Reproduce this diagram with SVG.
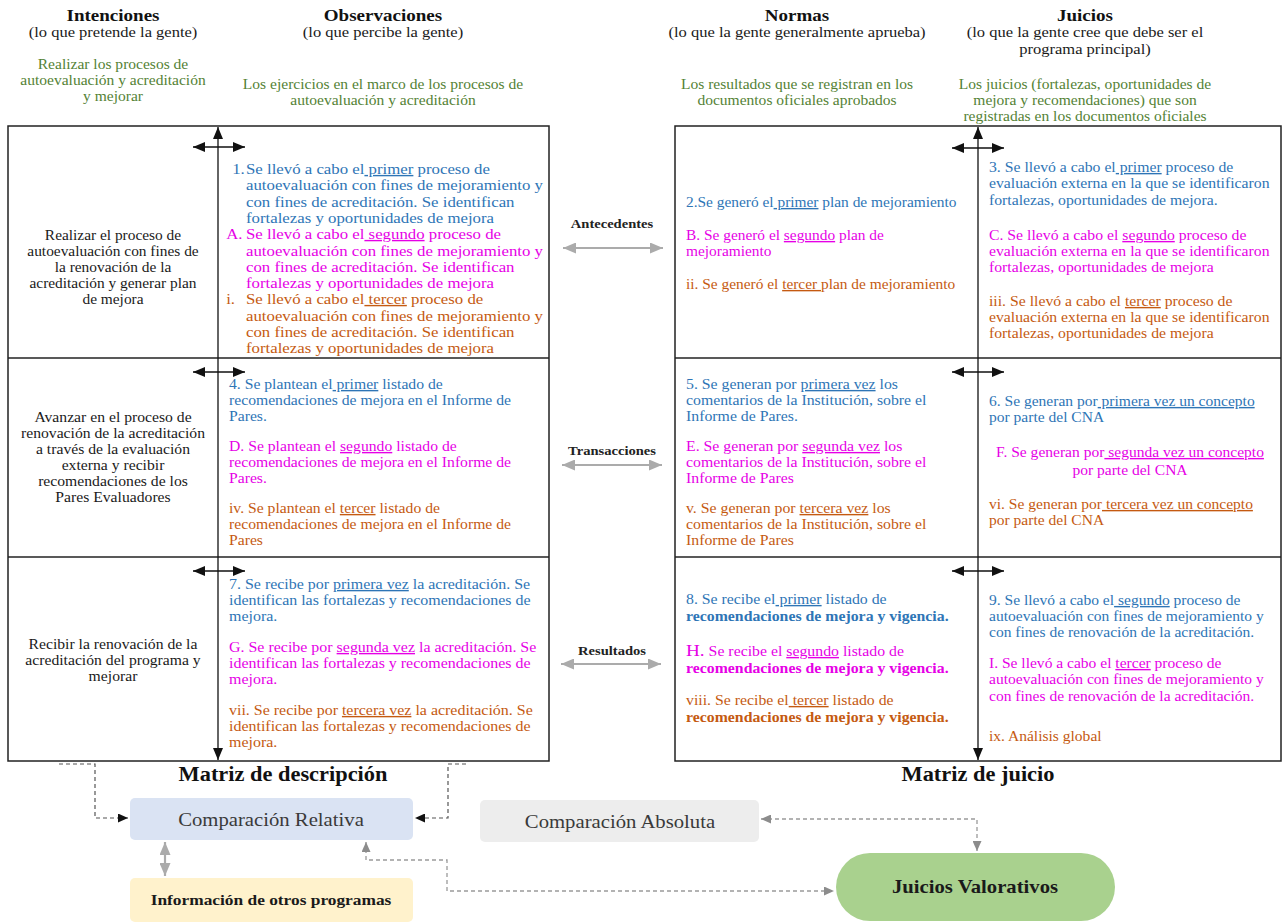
<svg xmlns="http://www.w3.org/2000/svg" width="1283" height="924" viewBox="0 0 1283 924">
<style>
text{font-family:"Liberation Serif","Times New Roman",serif;font-size:14px;fill:#1a1a1a}
.hd{font-size:17px;font-weight:bold;fill:#111}
.g{fill:#548235}
.b{fill:#2E75B6}
.m{fill:#E600E6}
.o{fill:#C55A11}
.bd{font-weight:bold}
.u{text-decoration:underline}
.mid{font-size:13px;font-weight:bold;fill:#222}
.box{stroke:none}
.frame{fill:none;stroke:#222;stroke-width:1.5}
.ax{stroke:#111;stroke-width:1.3;fill:none}
.gr{stroke:#ababab;stroke-width:2.2;fill:none}
.dk{stroke:#555;stroke-width:1.2;stroke-dasharray:4 3;fill:none}
.dg{stroke:#9a9a9a;stroke-width:1.3;stroke-dasharray:4 3;fill:none}
</style>
<defs>
<marker id="ak" viewBox="0 0 12 10" refX="12" refY="5" markerWidth="12" markerHeight="10" markerUnits="userSpaceOnUse" orient="auto-start-reverse"><path d="M0,0 L12,5 L0,10 z" fill="#111"/></marker>
<marker id="ag" viewBox="0 0 13 11" refX="13" refY="5.5" markerWidth="13" markerHeight="11" markerUnits="userSpaceOnUse" orient="auto-start-reverse"><path d="M0,0 L13,5.5 L0,11 z" fill="#ababab"/></marker>
<marker id="ak2" viewBox="0 0 10 9" refX="10" refY="4.5" markerWidth="10" markerHeight="9" markerUnits="userSpaceOnUse" orient="auto-start-reverse"><path d="M0,0 L10,4.5 L0,9 z" fill="#111"/></marker>
<marker id="ag2" viewBox="0 0 10 9" refX="10" refY="4.5" markerWidth="10" markerHeight="9" markerUnits="userSpaceOnUse" orient="auto-start-reverse"><path d="M0,0 L10,4.5 L0,9 z" fill="#8c8c8c"/></marker>
</defs>
<rect width="1283" height="924" fill="#ffffff"/>

<!-- headers -->
<g id="hdr-intenciones" text-anchor="middle">
<g transform="translate(113,0) scale(1.12,1)"><text class="hd" y="21">Intenciones</text></g>
<g transform="translate(113,0) scale(1.18,1)"><text y="37">(lo que pretende la gente)</text></g>
<g transform="translate(113,0) scale(1.11,1)"><text class="g" y="69">Realizar los procesos de</text><text class="g" y="85">autoevaluación y acreditación</text><text class="g" y="101">y mejorar</text></g>
</g>
<g id="hdr-observaciones" text-anchor="middle">
<g transform="translate(383,0) scale(1.12,1)"><text class="hd" y="21">Observaciones</text></g>
<g transform="translate(383,0) scale(1.18,1)"><text y="37">(lo que percibe la gente)</text></g>
<g transform="translate(383,0) scale(1.11,1)"><text class="g" y="89">Los ejercicios en el marco de los procesos de</text><text class="g" y="105">autoevaluación y acreditación</text></g>
</g>
<g id="hdr-normas" text-anchor="middle">
<g transform="translate(797,0) scale(1.12,1)"><text class="hd" y="21">Normas</text></g>
<g transform="translate(797,0) scale(1.18,1)"><text y="37">(lo que la gente generalmente aprueba)</text></g>
<g transform="translate(797,0) scale(1.11,1)"><text class="g" y="89">Los resultados que se registran en los</text><text class="g" y="105">documentos oficiales aprobados</text></g>
</g>
<g id="hdr-juicios" text-anchor="middle">
<g transform="translate(1085,0) scale(1.12,1)"><text class="hd" y="21">Juicios</text></g>
<g transform="translate(1085,0) scale(1.18,1)"><text y="37">(lo que la gente cree que debe ser el</text><text y="54">programa principal)</text></g>
<g transform="translate(1085,0) scale(1.11,1)"><text class="g" y="89">Los juicios (fortalezas, oportunidades de</text><text class="g" y="105">mejora y recomendaciones) que son</text><text class="g" y="121">registradas en los documentos oficiales</text></g>
</g>

<!-- Matriz de descripción -->
<g id="matriz-descripcion">
<rect class="frame" x="8" y="126" width="541" height="635"/>
<line class="frame" x1="8" y1="358" x2="549" y2="358"/>
<line class="frame" x1="8" y1="557" x2="549" y2="557"/>
<g transform="translate(283,0) scale(1.12,1)" text-anchor="middle"><text class="hd" style="font-size:20px" y="781">Matriz de descripción</text></g>
</g>

<g id="desc-int-antecedentes" transform="translate(113,0) scale(1.1,1)" text-anchor="middle">
<text y="240">Realizar el proceso de</text><text y="256">autoevaluación con fines de</text><text y="272">la renovación de la</text><text y="288">acreditación y generar plan</text><text y="304">de mejora</text>
</g>
<g id="desc-obs-antecedentes" transform="translate(246,0) scale(1.2,1)">
<text class="b" x="-11.5" y="174">1.</text>
<text class="b" y="174">Se llevó a cabo el<tspan class="u"> primer</tspan> proceso de</text>
<text class="b" y="190">autoevaluación con fines de mejoramiento y</text>
<text class="b" y="207">con fines de acreditación. Se identifican</text>
<text class="b" y="223">fortalezas y oportunidades de mejora</text>
<text class="m" x="-16.5" y="239">A.</text>
<text class="m" y="239">Se llevó a cabo el<tspan class="u"> segundo</tspan> proceso de</text>
<text class="m" y="256">autoevaluación con fines de mejoramiento y</text>
<text class="m" y="272">con fines de acreditación. Se identifican</text>
<text class="m" y="288">fortalezas y oportunidades de mejora</text>
<text class="o" x="-16.5" y="304">i.</text>
<text class="o" y="304">Se llevó a cabo el<tspan class="u"> tercer</tspan> proceso de</text>
<text class="o" y="321">autoevaluación con fines de mejoramiento y</text>
<text class="o" y="337">con fines de acreditación. Se identifican</text>
<text class="o" y="353">fortalezas y oportunidades de mejora</text>
</g>

<g id="desc-int-transacciones" transform="translate(113,0) scale(1.12,1)" text-anchor="middle">
<text y="422">Avanzar en el proceso de</text><text y="438">renovación de la acreditación</text><text y="454">a través de la evaluación</text><text y="470">externa y recibir</text><text y="486">recomendaciones de los</text><text y="502">Pares Evaluadores</text>
</g>
<g id="desc-obs-transacciones" transform="translate(229,0) scale(1.12,1)">
<text class="b" y="389">4. Se plantean el<tspan class="u"> primer</tspan> listado de</text>
<text class="b" y="405">recomendaciones de mejora en el Informe de</text>
<text class="b" y="421">Pares.</text>
<text class="m" y="451">D. Se plantean el <tspan class="u">segundo</tspan> listado de</text>
<text class="m" y="467">recomendaciones de mejora en el Informe de</text>
<text class="m" y="483">Pares.</text>
<text class="o" y="513">iv. Se plantean el <tspan class="u">tercer</tspan> listado de</text>
<text class="o" y="529">recomendaciones de mejora en el Informe de</text>
<text class="o" y="545">Pares</text>
</g>

<g id="desc-int-resultados" transform="translate(113,0) scale(1.12,1)" text-anchor="middle">
<text y="649">Recibir la renovación de la</text><text y="665">acreditación del programa y</text><text y="681">mejorar</text>
</g>
<g id="desc-obs-resultados" transform="translate(229,0) scale(1.14,1)">
<text class="b" y="589">7. Se recibe por <tspan class="u">primera vez</tspan> la acreditación. Se</text>
<text class="b" y="605">identifican las fortalezas y recomendaciones de</text>
<text class="b" y="621">mejora.</text>
<text class="m" y="652">G. Se recibe por <tspan class="u">segunda vez</tspan> la acreditación. Se</text>
<text class="m" y="668">identifican las fortalezas y recomendaciones de</text>
<text class="m" y="684">mejora.</text>
<text class="o" y="715">vii. Se recibe por <tspan class="u">tercera vez</tspan> la acreditación. Se</text>
<text class="o" y="731">identifican las fortalezas y recomendaciones de</text>
<text class="o" y="747">mejora.</text>
</g>

<!-- Matriz de juicio -->
<g id="matriz-juicio">
<rect class="frame" x="675" y="126" width="606" height="635"/>
<line class="frame" x1="675" y1="358" x2="1281" y2="358"/>
<line class="frame" x1="675" y1="557" x2="1281" y2="557"/>
<g transform="translate(978,0) scale(1.12,1)" text-anchor="middle"><text class="hd" style="font-size:20px" y="781">Matriz de juicio</text></g>
</g>

<g id="juicio-normas-antecedentes" transform="translate(686,0) scale(1.1,1)">
<text class="b" y="207">2.Se generó el<tspan class="u"> primer</tspan> plan de mejoramiento</text>
<text class="m" y="240">B. Se generó el <tspan class="u">segundo</tspan> plan de</text>
<text class="m" y="256">mejoramiento</text>
<text class="o" y="289">ii. Se generó el <tspan class="u">tercer </tspan>plan de mejoramiento</text>
</g>
<g id="juicio-juicios-antecedentes" transform="translate(989,0) scale(1.125,1)">
<text class="b" y="172">3. Se llevó a cabo el<tspan class="u"> primer</tspan> proceso de</text>
<text class="b" y="188">evaluación externa en la que se identificaron</text>
<text class="b" y="205">fortalezas, oportunidades de mejora.</text>
<text class="m" y="240">C. Se llevó a cabo el <tspan class="u">segundo</tspan> proceso de</text>
<text class="m" y="256">evaluación externa en la que se identificaron</text>
<text class="m" y="272">fortalezas, oportunidades de mejora</text>
<text class="o" y="306">iii.  Se llevó a cabo el <tspan class="u">tercer</tspan> proceso de</text>
<text class="o" y="322">evaluación externa en la que se identificaron</text>
<text class="o" y="338">fortalezas, oportunidades de mejora</text>
</g>

<g id="juicio-normas-transacciones" transform="translate(686,0) scale(1.13,1)">
<text class="b" y="389">5. Se generan por <tspan class="u">primera vez</tspan> los</text>
<text class="b" y="405">comentarios de la Institución, sobre el</text>
<text class="b" y="421">Informe de Pares.</text>
<text class="m" y="451">E. Se generan por <tspan class="u">segunda vez</tspan> los</text>
<text class="m" y="467">comentarios de la Institución, sobre el</text>
<text class="m" y="483">Informe de Pares</text>
<text class="o" y="513">v. Se generan por <tspan class="u">tercera vez</tspan> los</text>
<text class="o" y="529">comentarios de la Institución, sobre el</text>
<text class="o" y="545">Informe de Pares</text>
</g>
<g id="juicio-juicios-transacciones">
<g transform="translate(989,0) scale(1.11,1)">
<text class="b" y="406">6. Se generan por<tspan class="u"> primera vez un concepto</tspan></text>
<text class="b" y="422">por parte del CNA</text>
<text class="o" y="509">vi.  Se generan por<tspan class="u"> tercera vez un concepto</tspan></text>
<text class="o" y="525">por parte del CNA</text>
</g>
<g transform="translate(1130,0) scale(1.11,1)" text-anchor="middle">
<text class="m" y="457">F.  Se generan por<tspan class="u"> segunda vez un concepto</tspan></text>
<text class="m" y="475">por parte del CNA</text>
</g>
</g>

<g id="juicio-normas-resultados" transform="translate(686,0) scale(1.13,1)">
<text class="b" y="604">8. Se recibe el<tspan class="u"> primer</tspan> listado de</text>
<text class="b bd" y="621">recomendaciones de mejora y vigencia.</text>
<text class="m" y="656"><tspan style="font-size:17px">H.</tspan> Se recibe el <tspan class="u">segundo</tspan> listado de</text>
<text class="m bd" y="673">recomendaciones de mejora y vigencia.</text>
<text class="o" y="705">viii. Se recibe el<tspan class="u"> tercer</tspan> listado de</text>
<text class="o bd" y="722">recomendaciones de mejora y vigencia.</text>
</g>
<g id="juicio-juicios-resultados" transform="translate(989,0) scale(1.11,1)">
<text class="b" y="605">9. Se llevó a cabo el<tspan class="u"> segundo</tspan> proceso de</text>
<text class="b" y="621">autoevaluación con fines de mejoramiento y</text>
<text class="b" y="637">con fines de renovación de la acreditación.</text>
<text class="m" y="668">I. Se llevó a cabo el <tspan class="u">tercer</tspan> proceso de</text>
<text class="m" y="684">autoevaluación con fines de mejoramiento y</text>
<text class="m" y="701">con fines de renovación de la acreditación.</text>
<text class="o" y="741">ix. Análisis global</text>
</g>

<!-- middle labels -->
<g id="lbl-antecedentes" transform="translate(612,0) scale(1.12,1)" text-anchor="middle"><text class="mid" y="228">Antecedentes</text></g>
<g id="lbl-transacciones" transform="translate(612,0) scale(1.12,1)" text-anchor="middle"><text class="mid" y="455">Transacciones</text></g>
<g id="lbl-resultados" transform="translate(612,0) scale(1.12,1)" text-anchor="middle"><text class="mid" y="655">Resultados</text></g>

<!-- bottom nodes -->
<g id="comparacion-relativa">
<rect class="box" x="130" y="798" width="283" height="42" rx="5" fill="#dae3f3"/>
<g transform="translate(271,0) scale(1.12,1)" text-anchor="middle"><text style="font-size:18.5px;fill:#3a3a3a" y="826">Comparación Relativa</text></g>
</g>
<g id="comparacion-absoluta">
<rect class="box" x="480" y="800" width="279" height="42" rx="5" fill="#ededed"/>
<g transform="translate(620,0) scale(1.12,1)" text-anchor="middle"><text style="font-size:18.5px;fill:#3a3a3a" y="828">Comparación Absoluta</text></g>
</g>
<g id="info-otros-programas">
<rect class="box" x="130" y="878" width="283" height="44" rx="5" fill="#fff2cc"/>
<g transform="translate(271,0) scale(1.12,1)" text-anchor="middle"><text class="bd" style="font-size:15.5px" y="905">Información de otros programas</text></g>
</g>
<g id="juicios-valorativos">
<rect class="box" x="836" y="853" width="279" height="68" rx="34" fill="#a9d18e"/>
<g transform="translate(975,0) scale(1.12,1)" text-anchor="middle"><text class="bd" style="font-size:18.5px" y="893">Juicios Valorativos</text></g>
</g>

<!-- connectors -->
<g id="connectors">
<line class="ax" x1="218" y1="127" x2="218" y2="760" marker-start="url(#ak)" marker-end="url(#ak)"/>
<line class="ax" x1="193" y1="147" x2="245" y2="147" marker-start="url(#ak)" marker-end="url(#ak)"/>
<line class="ax" x1="193" y1="372" x2="245" y2="372" marker-start="url(#ak)" marker-end="url(#ak)"/>
<line class="ax" x1="193" y1="571" x2="245" y2="571" marker-start="url(#ak)" marker-end="url(#ak)"/>
<line class="ax" x1="978" y1="127" x2="978" y2="760" marker-start="url(#ak)" marker-end="url(#ak)"/>
<line class="ax" x1="952" y1="148" x2="1004" y2="148" marker-start="url(#ak)" marker-end="url(#ak)"/>
<line class="ax" x1="952" y1="372" x2="1004" y2="372" marker-start="url(#ak)" marker-end="url(#ak)"/>
<line class="ax" x1="952" y1="571" x2="1004" y2="571" marker-start="url(#ak)" marker-end="url(#ak)"/>
<line class="gr" x1="563" y1="248" x2="663" y2="248" marker-start="url(#ag)" marker-end="url(#ag)"/>
<line class="gr" x1="562" y1="465" x2="662" y2="465" marker-start="url(#ag)" marker-end="url(#ag)"/>
<line class="gr" x1="561" y1="664" x2="661" y2="664" marker-start="url(#ag)" marker-end="url(#ag)"/>
<path class="dk" d="M59,764 H95 V818 H128" marker-end="url(#ak2)"/>
<path class="dk" d="M466,764 H448 V818 H415" marker-end="url(#ak2)"/>
<line class="gr" x1="165" y1="842" x2="165" y2="876" marker-start="url(#ag)" marker-end="url(#ag)"/>
<path class="dg" d="M366,842 V860 H447 V891 H834" marker-start="url(#ag2)" marker-end="url(#ag2)"/>
<path class="dg" d="M761,819 H977 V851" marker-start="url(#ag2)" marker-end="url(#ag2)"/>
</g>
</svg>
